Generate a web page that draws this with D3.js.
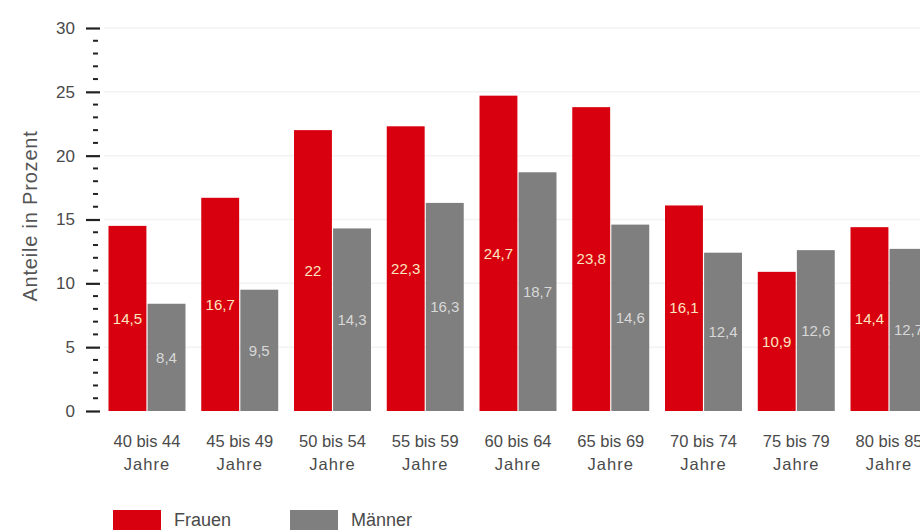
<!DOCTYPE html>
<html>
<head>
<meta charset="utf-8">
<script src="https://cdn.jsdelivr.net/npm/d3@7"></script>
<style>
  body { margin: 0; background: #fff; }
  svg { font-family: "Liberation Sans", Arial, sans-serif; }
</style>
</head>
<body>
<svg width="920" height="530"></svg>
<script>
// age groups (two-line labels)
let groups = ["40 bis 44", "45 bis 49", "50 bis 54", "55 bis 59", "60 bis 64", "65 bis 69", "70 bis 74", "75 bis 79", "80 bis 85"]
let series = ["Frauen", "Männer"]
let frauen = [14.5, 16.7, 22, 22.3, 24.7, 23.8, 16.1, 10.9, 14.4]
let maenner = [8.4, 9.5, 14.3, 16.3, 18.7, 14.6, 12.4, 12.6, 12.7]
let yTicks = [0, 5, 10, 15, 20, 25, 30]

let colors = { "Frauen": "#d8000f", "Männer": "#7f7f7f" }
let labelColors = { "Frauen": "#fbe6c0", "Männer": "#d8d8d8" }

let data = groups.map(function (g, i) {
    return { group: g, values: [{ key: "Frauen", value: frauen[i] }, { key: "Männer", value: maenner[i] }] }
})

var svg = d3.select("svg")

var x = d3.scaleBand().domain(groups).range([108.5, 927.5]).paddingInner(0.17).paddingOuter(0)
var xs = d3.scaleBand().domain(series).range([0, x.bandwidth()]).paddingInner(0.03)
var y = d3.scaleLinear().domain([0, 30]).range([411, 28])

// faint grid
svg.append("g").selectAll("line")
    .data(yTicks.filter(d => d > 0))
    .enter().append("line")
    .attr("x1", 104).attr("x2", 920)
    .attr("y1", d => y(d)).attr("y2", d => y(d))
    .attr("stroke", "#f3f3f3").attr("stroke-width", 1.5)

// minor ticks
svg.append("g").selectAll("line")
    .data(d3.range(0, 31).filter(d => d % 5 !== 0))
    .enter().append("line")
    .attr("x1", 93).attr("x2", 98)
    .attr("y1", d => y(d)).attr("y2", d => y(d))
    .attr("stroke", "#222").attr("stroke-width", 2)

// y axis major ticks + labels
var yAxis = svg.append("g")
    .attr("transform", "translate(100,0)")
    .call(d3.axisLeft(y).tickValues(yTicks).tickSize(14).tickPadding(11))
yAxis.select(".domain").remove()
yAxis.selectAll(".tick line").attr("stroke", "#222").attr("stroke-width", 2.2)
yAxis.selectAll(".tick text").attr("font-size", "17px").attr("fill", "#4a4a4a")

svg.append("text")
    .attr("transform", "translate(37,216) rotate(-90)")
    .attr("text-anchor", "middle")
    .attr("font-size", "20px")
    .attr("letter-spacing", "0.8px")
    .attr("fill", "#555")
    .text("Anteile in Prozent")

var g = svg.selectAll(".grp")
    .data(data)
    .enter().append("g")
    .attr("class", "grp")
    .attr("transform", d => "translate(" + x(d.group) + ",0)")

g.selectAll("rect")
    .data(d => d.values)
    .enter().append("rect")
    .attr("x", d => xs(d.key))
    .attr("y", d => y(d.value))
    .attr("width", xs.bandwidth())
    .attr("height", d => y(0) - y(d.value))
    .attr("fill", d => colors[d.key])

g.selectAll(".val")
    .data(d => d.values)
    .enter().append("text")
    .attr("class", "val")
    .attr("x", d => xs(d.key) + xs.bandwidth() / 2)
    .attr("y", d => (y(d.value) + y(0)) / 2)
    .attr("dy", "0.35em")
    .attr("text-anchor", "middle")
    .attr("font-size", "15px")
    .attr("fill", d => labelColors[d.key])
    .text(d => String(d.value).replace(".", ","))

// x labels
var xl = svg.append("g").selectAll("text")
    .data(groups)
    .enter().append("text")
    .attr("x", d => x(d) + x.bandwidth() / 2)
    .attr("y", 447)
    .attr("text-anchor", "middle")
    .attr("font-size", "16.5px")
    .attr("fill", "#4a4a4a")
xl.append("tspan").attr("x", d => x(d) + x.bandwidth() / 2).text(d => d)
xl.append("tspan").attr("x", d => x(d) + x.bandwidth() / 2).attr("dy", 23).attr("letter-spacing", "1px").text("Jahre")

// legend
var legX = [113, 290]
var leg = svg.selectAll(".leg")
    .data(series)
    .enter().append("g")
    .attr("class", "leg")
    .attr("transform", (d, i) => "translate(" + legX[i] + ",510)")
leg.append("rect").attr("width", 48).attr("height", 22).attr("fill", d => colors[d])
leg.append("text").attr("x", 61).attr("y", 16).attr("font-size", "18px").attr("fill", "#4a4a4a").text(d => d)
</script>
</body>
</html>
